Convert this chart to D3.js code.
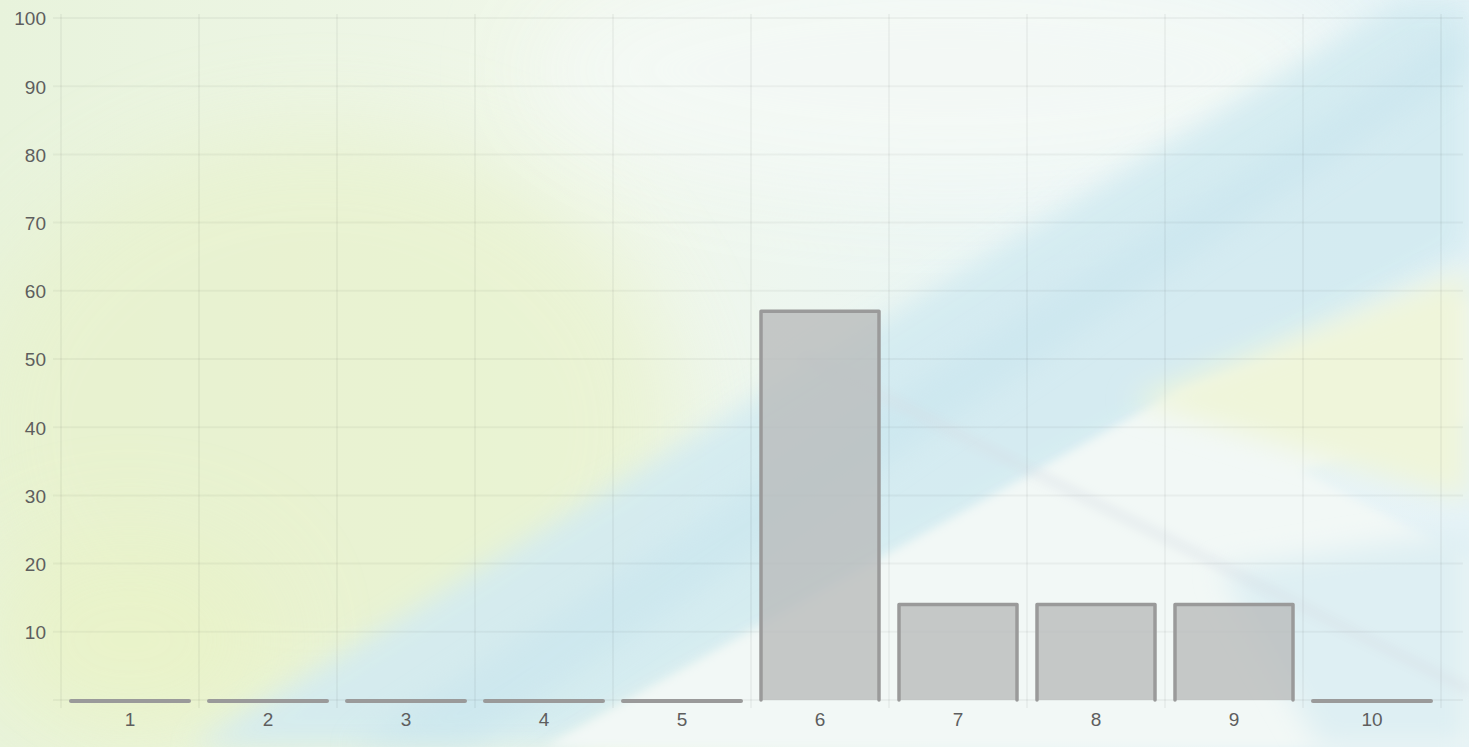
<!DOCTYPE html>
<html><head><meta charset="utf-8">
<script src="https://cdn.jsdelivr.net/npm/d3@7"></script>
<style>html,body{margin:0;padding:0;overflow:hidden;background:#eef5ee}</style>
</head><body>
<svg id="chart" width="1469" height="747"></svg>
<script>
const categories = ["1","2","3","4","5","6","7","8","9","10"];
const values = [0,0,0,0,0,57,14,14,14,0];
const yTicks = [10,20,30,40,50,60,70,80,90,100];

const W = 1469, H = 747;
const m = {left: 61, right: 28, top: 18, bottom: 47};
const svg = d3.select("#chart");
const defs = svg.append("defs");

// background
const bg = defs.append("linearGradient").attr("id","bgGrad").attr("x1","0").attr("y1","0").attr("x2","1").attr("y2","0");
bg.append("stop").attr("offset","0").attr("stop-color","#e8f3dc");
bg.append("stop").attr("offset","0.4").attr("stop-color","#f0f7ea");
bg.append("stop").attr("offset","0.7").attr("stop-color","#eaf5f5");
bg.append("stop").attr("offset","1").attr("stop-color","#e6f3f7");
function mkBlur(id, s){
  const f = defs.append("filter").attr("id",id).attr("x","-50%").attr("y","-50%").attr("width","200%").attr("height","200%");
  f.append("feGaussianBlur").attr("stdDeviation",s);
}
mkBlur("blur",45); mkBlur("blur2",14); mkBlur("blur3",5);

const bgG = svg.append("g");
bgG.append("rect").attr("width",W).attr("height",H).attr("fill","url(#bgGrad)");
bgG.append("ellipse").attr("cx",320).attr("cy",430).attr("rx",360).attr("ry",300).attr("fill","#e8f2cc").attr("opacity",0.75).attr("filter","url(#blur)");
bgG.append("ellipse").attr("cx",130).attr("cy",640).attr("rx",150).attr("ry",110).attr("fill","#e9f3c8").attr("opacity",0.8).attr("filter","url(#blur)");
bgG.append("ellipse").attr("cx",950).attr("cy",70).attr("rx",420).attr("ry",130).attr("fill","#f4f9f6").attr("opacity",0.9).attr("filter","url(#blur)");
// blue diagonal band
bgG.append("polygon").attr("points","190,747 560,747 1469,250 1469,0 1400,0").attr("fill","#d3ebf1").attr("opacity",0.9).attr("filter","url(#blur2)");
bgG.append("polygon").attr("points","350,747 470,747 1469,70 1469,25").attr("fill","#c8e5ee").attr("opacity",0.55).attr("filter","url(#blur2)");
// white wedge
bgG.append("polygon").attr("points","545,747 1469,747 1469,560 1300,470 1469,420 1469,300 1180,390").attr("fill","#f2f8f6").attr("filter","url(#blur3)");
// yellow band on right
bgG.append("polygon").attr("points","1130,400 1469,270 1469,500 1330,460").attr("fill","#eff5da").attr("filter","url(#blur2)");
// lower right blue
bgG.append("polygon").attr("points","1220,570 1469,530 1469,747 1320,747").attr("fill","#deeff3").attr("filter","url(#blur2)");
// faint diagonal line right
bgG.append("line").attr("x1",800).attr("y1",355).attr("x2",1469).attr("y2",690).attr("stroke","#d6dde4").attr("stroke-width",12).attr("opacity",0.35).attr("filter","url(#blur3)");

const x = d3.scaleBand().domain(categories).range([m.left, W - m.right]).paddingInner(0).paddingOuter(0);
const y = d3.scaleLinear().domain([0,100]).range([H - m.bottom, m.top]);

// grid
const grid = svg.append("g");
grid.selectAll("line.h").data([0].concat(yTicks)).join("line")
  .attr("x1", m.left - 8).attr("x2", W - 6)
  .attr("y1", d => y(d)).attr("y2", d => y(d))
  .attr("stroke", "rgba(0,0,0,0.04)").attr("stroke-width", 2);
const vlines = categories.map(c => x(c)).concat([x(categories[categories.length-1]) + x.bandwidth()]);
grid.selectAll("line.v").data(vlines).join("line")
  .attr("x1", d => d).attr("x2", d => d)
  .attr("y1", m.top - 4).attr("y2", y(0) + 8)
  .attr("stroke", "rgba(0,0,0,0.04)").attr("stroke-width", 2);

const font = "Liberation Sans, Arial, Helvetica, sans-serif";
// y axis labels
const yAxis = d3.axisLeft(y).tickValues(yTicks).tickSize(0).tickPadding(0);
const ya = svg.append("g").attr("transform", `translate(${m.left - 15},0)`).call(yAxis);
ya.select(".domain").remove();
ya.selectAll("text").attr("font-family",font).attr("font-size",19).attr("fill","#5e5e5e").attr("dy","0.36em");

// x axis labels
const xAxis = d3.axisBottom(x).tickSize(0).tickPadding(0);
const xa = svg.append("g").attr("transform", `translate(0,${y(0) + 12})`).call(xAxis);
xa.select(".domain").remove();
xa.selectAll("text").attr("font-family",font).attr("font-size",19).attr("fill","#5e5e5e").attr("dy","0.71em");

// bars (open bottom)
const pad = 10;
const barG = svg.append("g");
barG.selectAll("path").data(values).join("path")
  .attr("d", (d,i) => {
    const x0 = x(categories[i]) + pad, x1 = x(categories[i]) + x.bandwidth() - pad;
    const yb = y(0), yt = y(d);
    if (d === 0) return `M${x0},${yb+1}L${x1},${yb+1}`;
    return `M${x0},${yb}L${x0},${yt}L${x1},${yt}L${x1},${yb}`;
  })
  .attr("fill", d => d > 0 ? "rgba(185,187,187,0.8)" : "none")
  .attr("stroke", "#9a9a9a")
  .attr("stroke-width", d => d > 0 ? 3.5 : 4)
  .attr("stroke-linejoin", "round")
  .attr("stroke-linecap", "round");
</script>
</body></html>
